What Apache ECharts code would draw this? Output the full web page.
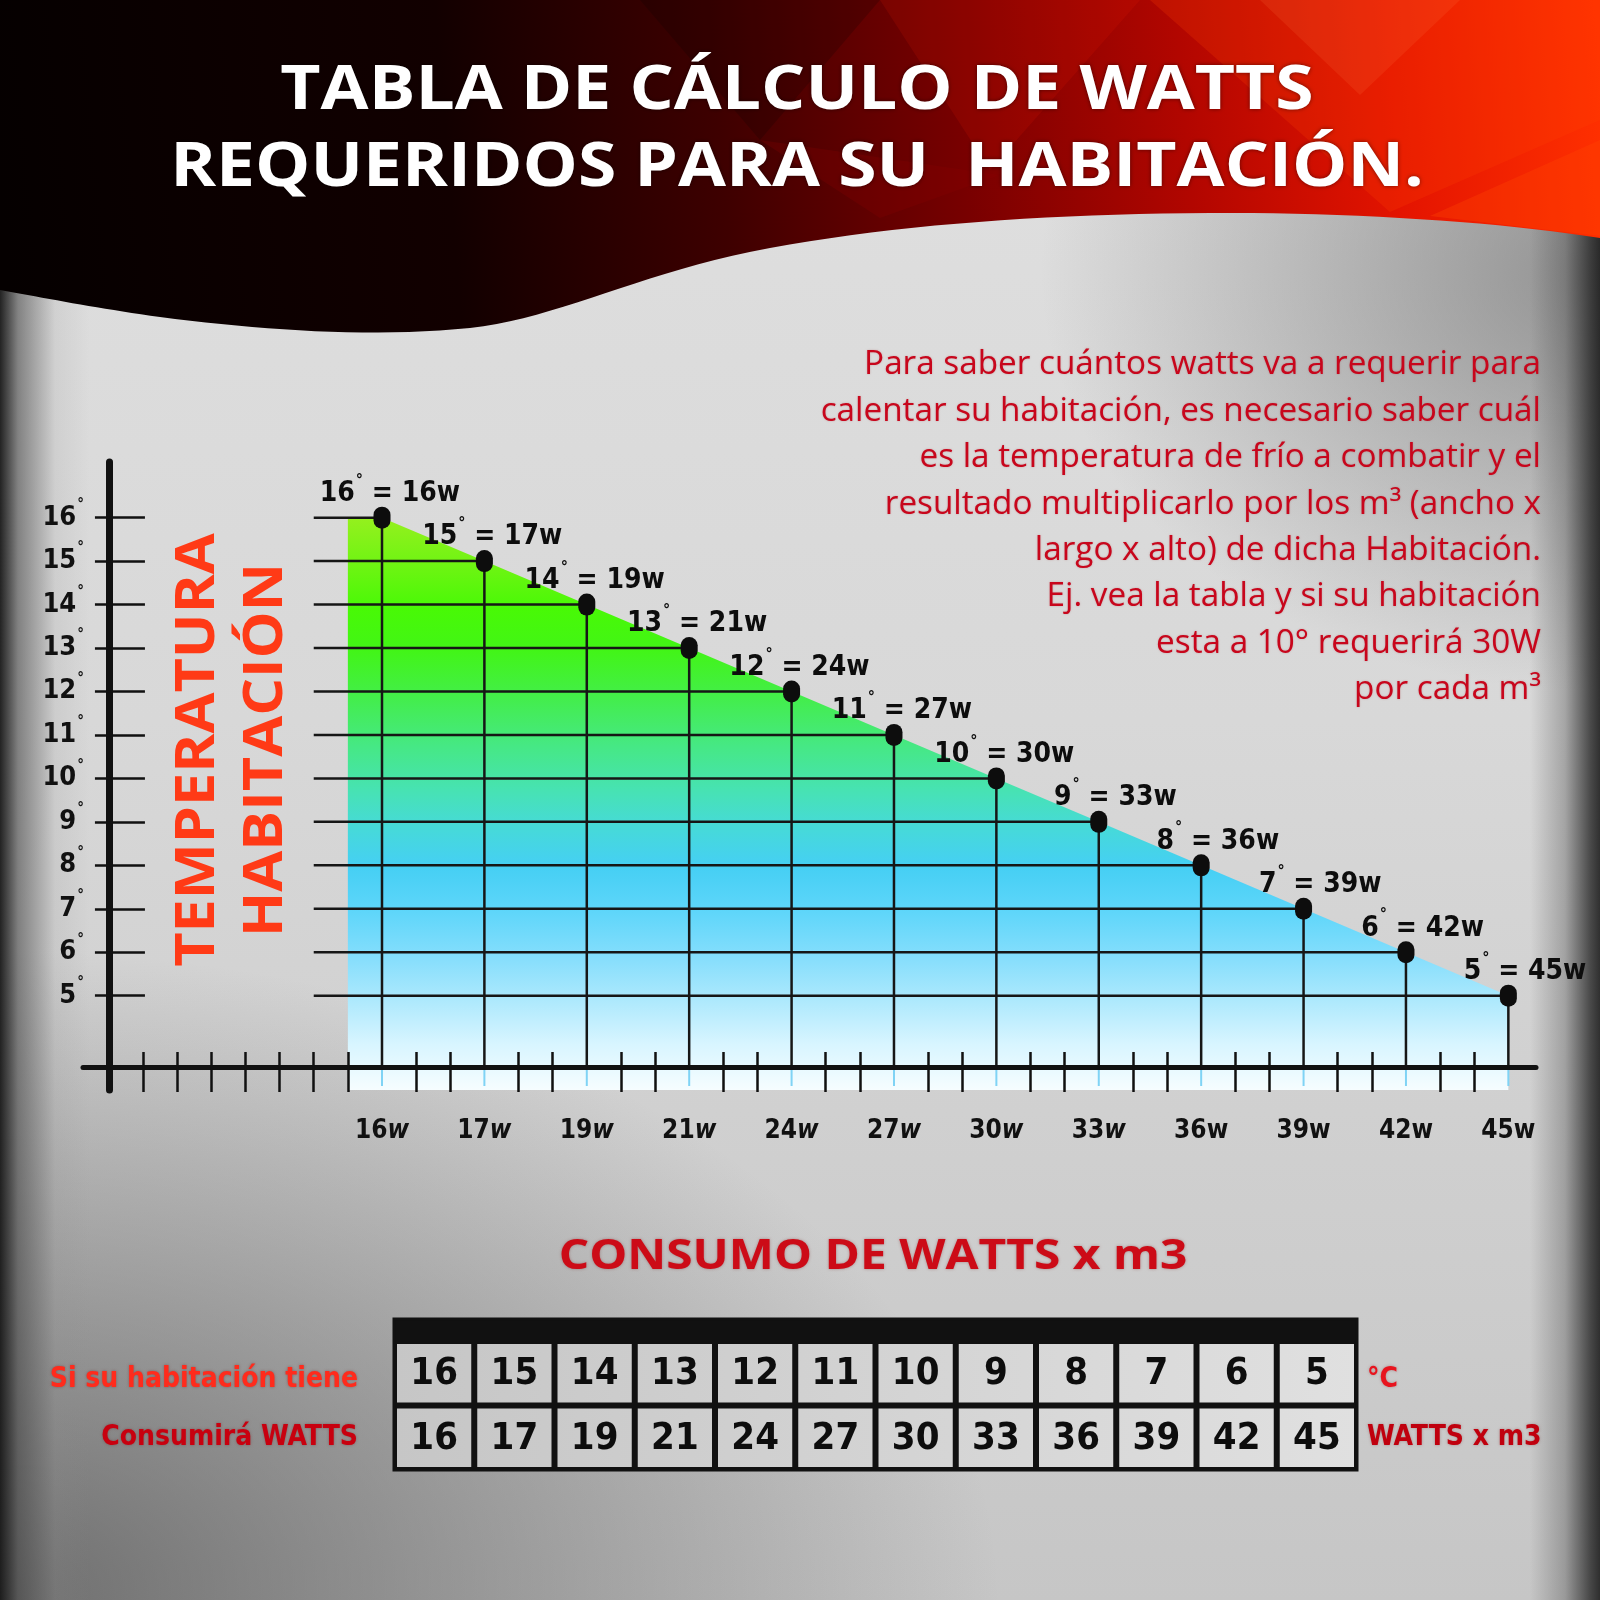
<!DOCTYPE html>
<html>
<head>
<meta charset="utf-8">
<script src="https://cdn.jsdelivr.net/npm/echarts@6/dist/echarts.min.js"></script>
<style>
html, body { margin: 0; padding: 0; }
#chart {
  width: 1600px; height: 1600px;
  background:
    linear-gradient(90deg, rgba(25,25,25,0.95) 0px, rgba(70,70,70,0.6) 18px, rgba(140,140,140,0.15) 55px, rgba(0,0,0,0) 90px, rgba(0,0,0,0) 1530px, rgba(70,70,70,0.35) 1565px, rgba(40,40,40,0.8) 1590px, rgba(30,30,30,0.9) 1600px),
    radial-gradient(ellipse 560px 420px at 100% 17%, rgba(95,95,95,0.6), rgba(95,95,95,0) 100%),
    radial-gradient(ellipse 1000px 650px at 0% 100%, rgba(80,80,80,0.75), rgba(80,80,80,0) 100%),
    linear-gradient(180deg, #e0e0e0 0%, #d8d8d8 45%, #c6c6c6 100%);
}
</style>
</head>
<body>
<div id="chart"></div>
<script>
// ---------------- data ----------------
const temps = [16, 15, 14, 13, 12, 11, 10, 9, 8, 7, 6, 5];
const watts = [16, 17, 19, 21, 24, 27, 30, 33, 36, 39, 42, 45];
const xTickLabels = ['16w', '17w', '19w', '21w', '24w', '27w', '30w', '33w', '36w', '39w', '42w', '45w'];
const yTickValues = [5, 6, 7, 8, 9, 10, 11, 12, 13, 14, 15, 16];
const rowLabelsLeft = ['Si su habitación tiene', 'Consumirá WATTS'];
const rowLabelsRight = ['°C', 'WATTS x m3'];
const titleLines = ['TABLA DE CÁLCULO DE WATTS', 'REQUERIDOS PARA SU  HABITACIÓN.'];
const axisTitleLines = ['TEMPERATURA', 'HABITACIÓN'];
const noteLines = [
  'Para saber cuántos watts va a requerir para',
  'calentar su habitación, es necesario saber cuál',
  'es la temperatura de frío a combatir y el',
  'resultado multiplicarlo por los m³ (ancho x',
  'largo x alto) de dicha Habitación.',
  'Ej. vea la tabla y si su habitación',
  'esta a 10° requerirá 30W',
  'por cada m³'
];
const tableTitle = 'CONSUMO DE WATTS x m3';

// ---------------- layout ----------------
const COND = '"DejaVu Sans Condensed", "Liberation Sans Narrow", "DejaVu Sans", sans-serif';
const SANS = '"Open Sans", "Noto Sans", sans-serif';
const FIRST = 8, STEP = 3;
const pos = i => FIRST + STEP * i;
const X_MIN = -0.76, X_MAX = 41.81;
const Y_MIN = 2.83, Y_MAX = 17.28;
const X_OFF = -23;
const LINE_START = 6;

const pts = temps.map((t, i) => [pos(i), t]);
const areaData = [[pos(0) - 1, temps[0]]].concat(pts);
const minorTicks = [];
for (let k = 1; k <= Math.floor(X_MAX); k++) {
  if (k < FIRST || (k - FIRST) % STEP !== 0) minorTicks.push(k);
}
const labelPos = xTickLabels.map((_, i) => pos(i));
const cells = [];
temps.forEach((t, i) => { cells.push([i, 0, t]); cells.push([i, 1, watts[i]]); });

function lin(x, y, x2, y2, stops, global) {
  return { type: 'linear', x: x, y: y, x2: x2, y2: y2, global: !!global,
    colorStops: stops.map(s => ({ offset: s[0], color: s[1] })) };
}

// header wave outline (decoration) from cubic bezier segments
function waveOutline() {
  const segs = [
    [[1600, 238], [1500, 222], [1350, 212], [1210, 213]],
    [[1210, 213], [1050, 214], [900, 224], [770, 248]],
    [[770, 248], [640, 272], [560, 318], [470, 328]],
    [[470, 328], [370, 338], [260, 330], [160, 317]],
    [[160, 317], [95, 308], [45, 298], [0, 290]]
  ];
  const out = [[0, 0], [1600, 0]];
  segs.forEach(s => {
    for (let k = 0; k <= 20; k++) {
      const t = k / 20, u = 1 - t;
      const x = u*u*u*s[0][0] + 3*u*u*t*s[1][0] + 3*u*t*t*s[2][0] + t*t*t*s[3][0];
      const y = u*u*u*s[0][1] + 3*u*u*t*s[1][1] + 3*u*t*t*s[2][1] + t*t*t*s[3][1];
      out.push([x, y]);
    }
  });
  return out;
}

const chart = echarts.init(document.getElementById('chart'), null, { renderer: 'canvas', width: 1600, height: 1600 });

const areaGradient = lin(0, 0, 0, 1, [
  [0, '#95f01e'], [0.08, '#70f413'], [0.16, '#48f906'], [0.23, '#42f516'],
  [0.31, '#43ee48'], [0.40, '#46e885'], [0.48, '#47e2b5'], [0.54, '#46dad8'],
  [0.61, '#45cff4'], [0.69, '#5fd6fa'], [0.77, '#86defc'], [0.85, '#b1eafd'],
  [0.92, '#d8f5ff'], [1, '#f6fdff']
]);
const cellGradient = lin(395, 0, 1356, 0, [[0, '#c6c6c6'], [1, '#e0e0e0']], true);
const headerGradient = lin(0, 0.6, 1, 0.2, [
  [0, '#050000'], [0.28, '#120000'], [0.45, '#3e0000'], [0.6, '#780000'],
  [0.74, '#b20600'], [0.87, '#e41400'], [1, '#ff3000']
]);

const capsule = 'path://M0,6A6,6 0 0 1 12,6L12,10A6,6 0 0 1 0,10Z';

const option = {
  backgroundColor: 'transparent',
  animation: false,
  grid: [
    { left: 83, right: 64, top: 462, bottom: 510, show: false, outerBoundsMode: 'none', containLabel: false },
    { left: 394, right: 243, top: 1319, bottom: 130, show: true, backgroundColor: '#111', borderColor: '#111', borderWidth: 3, outerBoundsMode: 'none', containLabel: false }
  ],
  xAxis: [
    {
      type: 'value', gridIndex: 0, min: X_MIN, max: X_MAX, offset: X_OFF, position: 'bottom', z: 3,
      axisLine: { show: true, onZero: false, lineStyle: { color: '#111', width: 5 } },
      axisTick: { show: true, customValues: minorTicks, inside: true, length: 15, lineStyle: { color: '#111', width: 2.5 } },
      splitLine: { show: false },
      axisLabel: {
        show: true, customValues: labelPos, margin: 51,
        formatter: v => {
          const i = Math.round((v - FIRST) / STEP);
          const s = xTickLabels[i];
          const tag = i < 8 ? 'wi' : 'w';
          return '{n|' + s.slice(0, -1) + '}{' + tag + '|' + s.slice(-1) + '}';
        },
        rich: {
          n: { fontSize: 26, fontWeight: 'bold', fontFamily: COND, color: '#111' },
          w: { fontSize: 26, fontWeight: 'bold', fontFamily: COND, color: '#111' },
          wi: { fontSize: 26, fontWeight: 'bold', fontStyle: 'italic', fontFamily: COND, color: '#111' }
        }
      }
    },
    {
      type: 'value', gridIndex: 0, min: X_MIN, max: X_MAX, offset: X_OFF, position: 'bottom', z: 3,
      axisLine: { show: false, onZero: false },
      axisTick: { show: true, customValues: minorTicks, inside: false, length: 25, lineStyle: { color: '#111', width: 2.5 } },
      splitLine: { show: false },
      axisLabel: { show: false }
    },
    {
      type: 'category', gridIndex: 1, data: temps.map(String), show: false, boundaryGap: true
    }
  ],
  yAxis: [
    {
      type: 'value', gridIndex: 0, min: Y_MIN, max: Y_MAX, position: 'left', z: 3,
      axisLine: { show: true, onZero: true, lineStyle: { color: '#111', width: 7 } },
      axisTick: { show: true, customValues: yTickValues, inside: false, length: 14, lineStyle: { color: '#111', width: 2.5 } },
      splitLine: { show: false },
      axisLabel: {
        show: true, customValues: yTickValues, margin: -1,
        formatter: v => '{n|' + v + '}{d|°}',
        rich: {
          n: { fontSize: 27, fontWeight: 'bold', fontFamily: COND, color: '#111', lineHeight: 40 },
          d: { fontSize: 15, fontWeight: 'bold', fontFamily: COND, color: '#111', lineHeight: 12, verticalAlign: 'top', padding: [0, 0, 0, 1] }
        }
      }
    },
    {
      type: 'value', gridIndex: 0, min: Y_MIN, max: Y_MAX, position: 'left', z: 3,
      axisLine: { show: false, onZero: true },
      axisTick: { show: true, customValues: yTickValues, inside: true, length: 36, lineStyle: { color: '#111', width: 2.5 } },
      splitLine: { show: false },
      axisLabel: { show: false }
    },
    {
      type: 'value', gridIndex: 1, min: -0.34, max: 2, inverse: true, position: 'left',
      axisLine: { show: false }, axisTick: { show: false }, splitLine: { show: false },
      axisLabel: {
        show: true, customValues: [0.6, 1.5], margin: 36,
        formatter: v => '{r' + Math.floor(v) + '|' + rowLabelsLeft[Math.floor(v)] + '}',
        rich: {
          r0: { fontSize: 28, fontWeight: 'bold', fontFamily: COND, color: '#ff2b1c', textShadowColor: 'rgba(90,0,0,0.35)', textShadowBlur: 3 },
          r1: { fontSize: 28, fontWeight: 'bold', fontFamily: COND, color: '#c8000f', textShadowColor: 'rgba(90,0,0,0.35)', textShadowBlur: 3 }
        }
      }
    },
    {
      type: 'value', gridIndex: 1, min: -0.34, max: 2, inverse: true, position: 'right',
      axisLine: { show: false }, axisTick: { show: false }, splitLine: { show: false },
      axisLabel: {
        show: true, customValues: [0.6, 1.5], margin: 10,
        formatter: v => '{r' + Math.floor(v) + '|' + rowLabelsRight[Math.floor(v)] + '}',
        rich: {
          r0: { fontSize: 28, fontWeight: 'bold', fontFamily: COND, color: '#e8141e', textShadowColor: 'rgba(90,0,0,0.3)', textShadowBlur: 3 },
          r1: { fontSize: 28, fontWeight: 'bold', fontFamily: COND, color: '#c0000e', textShadowColor: 'rgba(90,0,0,0.3)', textShadowBlur: 3 }
        }
      }
    }
  ],
  series: [
    {
      type: 'line', xAxisIndex: 0, yAxisIndex: 0, data: areaData, symbol: 'none', showSymbol: false,
      lineStyle: { width: 0, opacity: 0 }, areaStyle: { origin: 'start', color: areaGradient, opacity: 1 },
      z: 1, silent: true
    },
    {
      type: 'custom', xAxisIndex: 0, yAxisIndex: 0, data: pts, encode: { x: 0, y: 1 }, z: 3, silent: true,
      renderItem: (params, api) => {
        const x = api.value(0), t = api.value(1);
        const p = api.coord([x, t]);
        const left = api.coord([LINE_START, t]);
        const bottom = api.coord([x, Y_MIN])[1];
        const axisY = bottom + X_OFF;
        return {
          type: 'group', children: [
            { type: 'line', shape: { x1: left[0], y1: p[1], x2: p[0], y2: p[1] }, style: { stroke: '#161616', lineWidth: 2.5 } },
            { type: 'line', shape: { x1: p[0], y1: p[1], x2: p[0], y2: axisY }, style: { stroke: '#161616', lineWidth: 2.5 } },
            { type: 'line', shape: { x1: p[0], y1: axisY, x2: p[0], y2: bottom - 4 }, style: { stroke: '#7fd3f5', lineWidth: 2 } }
          ]
        };
      }
    },
    {
      type: 'scatter', xAxisIndex: 0, yAxisIndex: 0, data: pts, symbol: capsule, symbolSize: [17, 22],
      itemStyle: { color: '#0d0d0d', opacity: 1 }, z: 4, silent: true,
      label: {
        show: true, position: 'top', distance: 0, align: 'right', offset: [78, 8],
        formatter: p => '{n|' + temps[p.dataIndex] + '}{d|°}{n| = ' + watts[p.dataIndex] + 'w}',
        rich: {
          n: { fontSize: 28, fontWeight: 'bold', fontFamily: COND, color: '#0d0d0d', lineHeight: 42 },
          d: { fontSize: 16, fontWeight: 'bold', fontFamily: COND, color: '#0d0d0d', lineHeight: 12, verticalAlign: 'top', padding: [0, 0, 0, 1] }
        }
      }
    },
    {
      type: 'custom', xAxisIndex: 2, yAxisIndex: 2, data: cells, encode: { x: 0, y: 1 }, silent: true,
      renderItem: (params, api) => {
        const col = api.value(0), row = api.value(1);
        const a = api.coord([col, row]);
        const b = api.coord([col, row + 1]);
        const bw = api.size([1, 0])[0];
        const g = 3;
        return {
          type: 'group', children: [
            { type: 'rect', shape: { x: a[0] - bw / 2 + g, y: a[1] + g, width: bw - 2 * g, height: b[1] - a[1] - 2 * g }, style: { fill: cellGradient } },
            { type: 'text', style: { text: String(api.value(2)), x: a[0], y: (a[1] + b[1]) / 2 + 1, align: 'center', verticalAlign: 'middle', font: 'bold 38px ' + COND, fill: '#0d0d0d' } }
          ]
        };
      }
    }
  ],
  graphic: [
    { type: 'polygon', z: 0, silent: true, shape: { points: waveOutline() }, style: { fill: headerGradient } },
    { type: 'polygon', z: 0, silent: true, shape: { points: [[1150, 0], [1600, 0], [1600, 120], [1390, 212]] }, style: { fill: 'rgba(255,70,0,0.22)' } },
    { type: 'polygon', z: 0, silent: true, shape: { points: [[880, 0], [1140, 0], [990, 170]] }, style: { fill: 'rgba(255,30,0,0.12)' } },
    { type: 'polygon', z: 0, silent: true, shape: { points: [[640, 0], [880, 0], [760, 140]] }, style: { fill: 'rgba(0,0,0,0.18)' } },
    { type: 'polygon', z: 0, silent: true, shape: { points: [[1430, 216], [1600, 140], [1600, 236]] }, style: { fill: 'rgba(255,70,0,0.35)' } },
    { type: 'polygon', z: 0, silent: true, shape: { points: [[1260, 0], [1460, 0], [1360, 95]] }, style: { fill: 'rgba(255,130,70,0.15)' } },
    { type: 'polygon', z: 0, silent: true, shape: { points: [[760, 140], [1000, 175], [880, 218]] }, style: { fill: 'rgba(140,0,0,0.25)' } },
    {
      type: 'text', z: 10, silent: true, x: 797, y: 54, scaleX: 1.16,
      style: {
        text: titleLines.join('\n'), fill: '#ffffff', font: 'bold 60px ' + SANS, lineHeight: 76.5,
        align: 'center', verticalAlign: 'top', textShadowColor: 'rgba(0,0,0,0.5)', textShadowBlur: 4
      }
    },
    {
      type: 'text', z: 10, silent: true, x: 233, y: 750, rotation: Math.PI / 2, scaleX: 1.12,
      style: {
        text: axisTitleLines.join('\n'), fill: '#ff3a16', font: 'bold 53px ' + SANS, lineHeight: 68,
        align: 'center', verticalAlign: 'middle'
      }
    },
    {
      type: 'text', z: 10, silent: true, x: 1541, y: 342, scaleX: 1.04,
      style: {
        text: noteLines.join('\n'), fill: '#c8061c', font: 'normal 32px ' + SANS, lineHeight: 46.4,
        align: 'right', verticalAlign: 'top', textShadowColor: 'rgba(120,0,0,0.25)', textShadowBlur: 2
      }
    },
    {
      type: 'text', z: 10, silent: true, x: 873, y: 1257, scaleX: 1.14,
      style: {
        text: tableTitle, fill: '#cc0b17', font: 'bold 42px ' + SANS,
        align: 'center', verticalAlign: 'middle', textShadowColor: 'rgba(100,0,0,0.35)', textShadowBlur: 3
      }
    }
  ]
};

chart.setOption(option);
</script>
</body>
</html>
